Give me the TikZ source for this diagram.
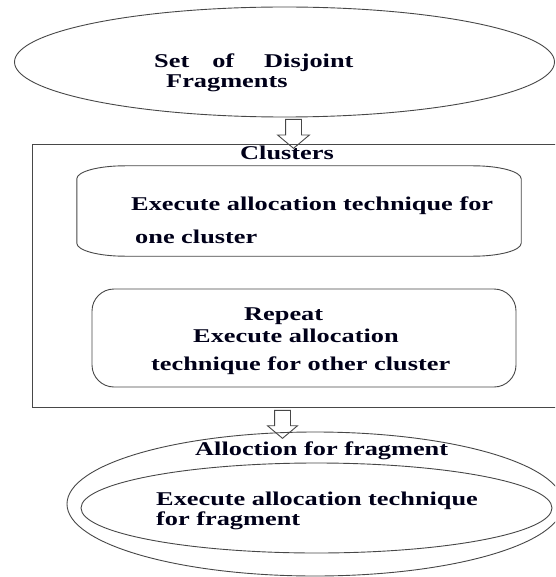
\documentclass[tikz,border=0pt]{standalone}
\usepackage{fontspec}
\usetikzlibrary{shapes.geometric,shapes.arrows}
\newfontfamily\tfont[FakeStretch=1.35]{Liberation Serif}
\begin{document}
\begin{tikzpicture}[x=1pt,y=-1pt,
  line/.style={draw=black!72, line width=0.9pt},
  txt/.style={inner sep=0pt, anchor=base west, text=black!90!blue,
    font=\tfont\bfseries\fontsize{19.5pt}{20pt}\selectfont},
  blockarrow/.style={single arrow, line, rotate=-90, inner sep=0pt,
    single arrow head extend=8pt, single arrow tip angle=100},
  ell/.style={ellipse, line, inner sep=0pt}]
\useasboundingbox (0,0) rectangle (555,577);
\clip (0,0) rectangle (555,577);
% top ellipse
\node[ell, minimum width=540pt, minimum height=110pt] (frag) at (284.5,62) {};
\node[txt] (t1) at (154,68) {Set\hskip 23pt of\hskip 30pt Disjoint};
\node[txt] (t2) at (166,88) {Fragments};
% clusters box
\node[line, rectangle, inner sep=0pt, minimum width=538pt, minimum height=263pt] (clus) at (301,275.5) {};
\node[txt] (t3) at (240,160) {Clusters};
% box 1
\node[inner sep=0pt, minimum width=444pt, minimum height=90pt] (b1) at (299,211) {};
\draw[line] ([yshift=-13pt]b1.north west) arc[start angle=180, end angle=90, x radius=48pt, y radius=13pt]
  -- ([xshift=-48pt]b1.north east) arc[start angle=90, end angle=0, x radius=48pt, y radius=13pt]
  -- ([yshift=13pt]b1.south east) arc[start angle=0, end angle=-90, x radius=48pt, y radius=13pt]
  -- ([xshift=48pt]b1.south west) arc[start angle=270, end angle=180, x radius=48pt, y radius=13pt]
  -- cycle;
\node[txt] (t4) at (131,211) {Execute allocation technique for};
\node[txt] (t5) at (135,243) {one cluster};
% box 2
\node[line, rectangle, rounded corners=22pt, inner sep=0pt, minimum width=424pt, minimum height=98pt] (b2) at (304,338) {};
\node[txt] (t6) at (244,320) {Repeat};
\node[txt] (t7) at (193,342) {Execute allocation};
\node[txt] (t8) at (151,370) {technique for other cluster};
% arrows
\node[blockarrow, minimum height=29pt, minimum width=31pt] (a1) at (293.5,130.5) {\rule{0pt}{15pt}};
\node[blockarrow, minimum height=28pt, minimum width=29pt, single arrow head extend=7pt] (a2) at (282.5,421) {\rule{0pt}{15pt}};
% bottom ellipses
\node[ell, minimum width=496pt, minimum height=144pt] (alloc) at (315,504) {};
\node[ell, minimum width=471pt, minimum height=90pt] (exe) at (316.5,508) {};
\node[txt] (t9) at (195,455) {Alloction for fragment};
\node[txt] (t10) at (156,505) {Execute allocation technique};
\node[txt] (t11) at (156,525) {for fragment};
\end{tikzpicture}
\end{document}
